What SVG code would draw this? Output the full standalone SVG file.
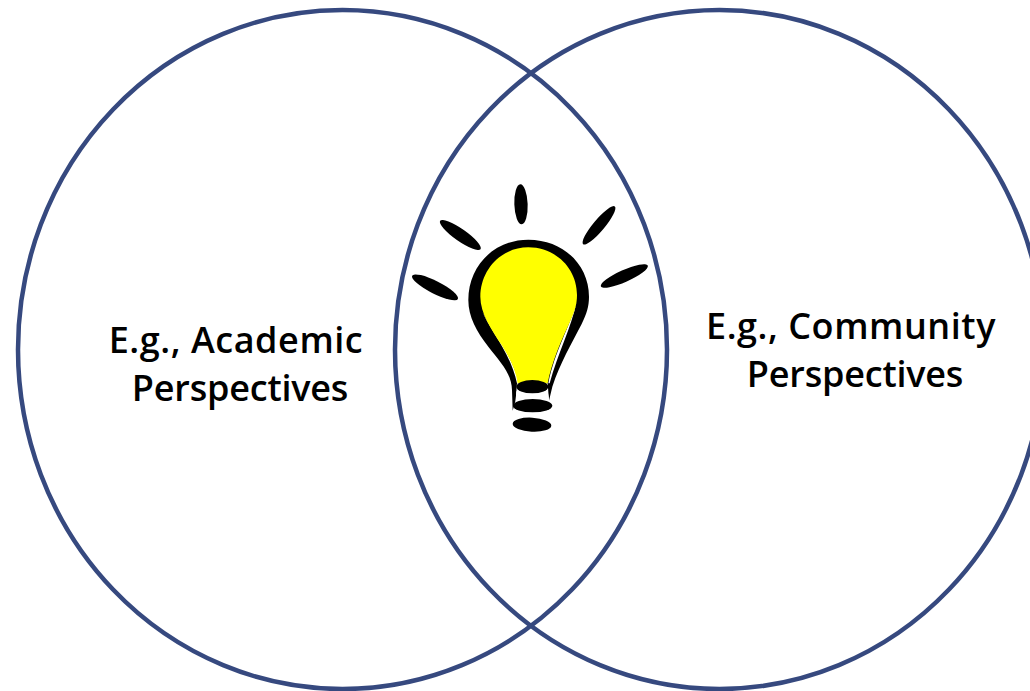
<svg xmlns="http://www.w3.org/2000/svg" width="1030" height="691" viewBox="0 0 1030 691">
<style>
.c{fill:none;stroke:#36497f;stroke-width:4.500}
.t{font-family:"Open Sans","Noto Sans",sans-serif;font-weight:600;font-size:36px;letter-spacing:.55px;fill:#000;text-anchor:middle}
.p{letter-spacing:-.2px}
.k{fill:#000}
</style>
<rect width="1030" height="691" fill="#fff"/>
<g id="left-circle"><ellipse class="c" cx="342.500" cy="349.500" rx="324.500" ry="339.500"/><text class="t" x="236" y="353">E.g., Academic</text><text class="t p" x="240" y="401">Perspectives</text></g>
<g id="right-circle"><ellipse class="c" cx="719.500" cy="349.500" rx="324.500" ry="339.500"/><text class="t" x="851" y="339">E.g., Community</text><text class="t p" x="855" y="387">Perspectives</text></g>
<g id="bulb" transform="translate(395 170) scale(.33333)">
<ellipse class="k" cx="378" cy="103" rx="20" ry="60" transform="rotate(-2 378 103)"/>
<ellipse class="k" cx="196" cy="195" rx="74" ry="18" transform="rotate(35 196 195)"/>
<ellipse class="k" cx="612" cy="166" rx="74" ry="17" transform="rotate(-50 612 166)"/>
<ellipse class="k" cx="120" cy="352" rx="77" ry="19" transform="rotate(27 120 352)"/>
<ellipse class="k" cx="688" cy="318" rx="77" ry="18" transform="rotate(-24 688 318)"/>
<path class="k" d="M400 209C295 209 220 290 220 390C220 440 245 485 280 530C315 575 350 610 351 660L353 722L362 690L366 640L458 640L462 692L472 650C495 580 530 520 560 462C575 430 582 410 582 380C582 285 505 209 400 209Z"/>
<path fill="#fff" d="M364 664L458 664L463 692L362 692Z"/>
<path fill="#fff" d="M262 425C285 480 345 545 366 640L372 640C350 550 295 490 262 425ZM545 395C525 470 480 540 460 640L464 640C488 550 530 470 545 395Z"/>
<path fill="#ff0" d="M400 232C318 232 256 300 256 380C256 430 290 480 320 525C345 565 362 600 368 640L458 640C470 575 500 510 525 455C538 425 546 405 546 375C546 295 482 232 400 232Z"/>
<ellipse class="k" cx="412" cy="650" rx="48" ry="20"/>
<ellipse class="k" cx="413" cy="707" rx="59" ry="20"/>
<ellipse class="k" cx="411" cy="764" rx="58" ry="21" transform="rotate(3 411 764)"/>
</g>
</svg>
